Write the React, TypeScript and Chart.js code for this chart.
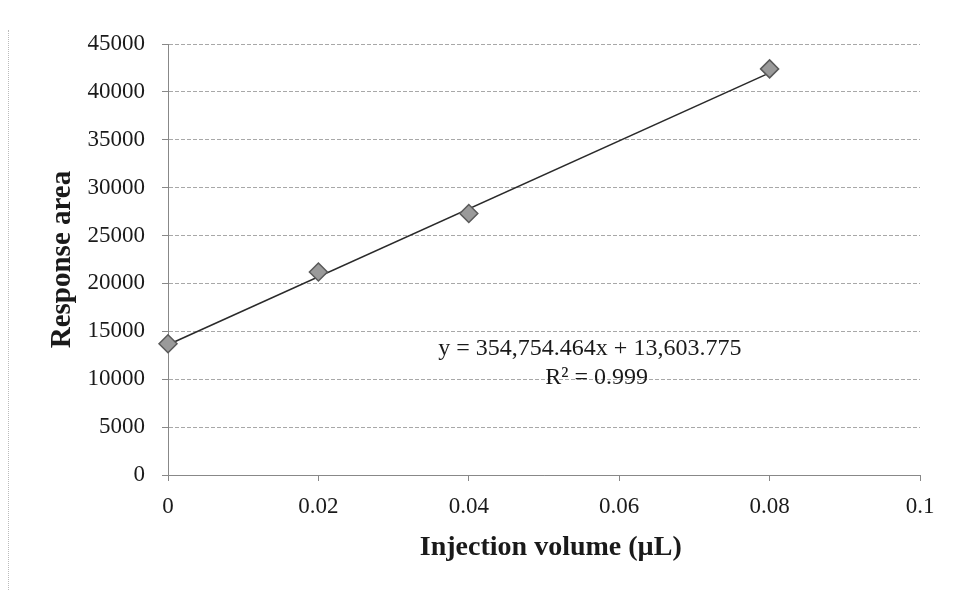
import React, { useEffect, useRef } from "react";
import { Chart, registerables } from "chart.js";

Chart.register(...registerables);

const injectionVolume = [0, 0.02, 0.04, 0.08];
const responseArea = [13700, 21200, 27300, 42400];
const trendX = [0, 0.08];
const trendY = [13603.775, 41984.132];
const equationLines = ["y = 354,754.464x + 13,603.775", "R² = 0.999"];
const xTitle = "Injection volume (µL)";
const yTitle = "Response area";

const textPlugin = {
  id: "eqText",
  afterDatasetsDraw(chart: any) {
    const { ctx, chartArea } = chart;
    const w = chartArea.right - chartArea.left;
    const h = chartArea.bottom - chartArea.top;
    ctx.save();
    ctx.fillStyle = "#1a1a1a";
    ctx.font = "24px 'Liberation Serif', serif";
    ctx.textAlign = "center";
    ctx.textBaseline = "middle";
    ctx.fillText(equationLines[0], chartArea.left + w * 0.561, chartArea.top + h * 0.708);
    ctx.fillText(equationLines[1], chartArea.left + w * 0.57, chartArea.top + h * 0.775);
    ctx.font = "bold 28px 'Liberation Serif', serif";
    ctx.fillText(xTitle, chartArea.left + w * 0.509, chartArea.bottom + 73);
    ctx.restore();
  },
};

export default function App() {
  const ref = useRef<HTMLCanvasElement>(null);
  useEffect(() => {
    document.body.style.margin = "0";
    const chart = new Chart(ref.current!, {
      type: "scatter",
      data: {
        datasets: [
          {
            type: "line",
            data: trendX.map((x, i) => ({ x, y: trendY[i] })),
            borderColor: "#2a2a2a",
            borderWidth: 1.6,
            pointRadius: 0,
            fill: false,
            clip: false,
            order: 2,
          },
          {
            data: injectionVolume.map((x, i) => ({ x, y: responseArea[i] })),
            pointStyle: "rectRot",
            pointRadius: 9,
            backgroundColor: "#9a9a9a",
            borderColor: "#5a5a5a",
            borderWidth: 1.5,
            clip: false,
            order: 1,
          },
        ],
      },
      options: {
        responsive: false,
        animation: false,
        layout: { padding: { top: 44, right: 35, left: 0, bottom: 0 } },
        plugins: { legend: { display: false }, tooltip: { enabled: false } },
        scales: {
          x: {
            type: "linear",
            min: 0,
            max: 0.1,
            ticks: {
              stepSize: 0.02,
              color: "#1a1a1a",
              padding: 12,
              font: { family: "'Liberation Serif', serif", size: 23 },
              callback: (v: any) => String(Math.round(v * 100) / 100),
            },
            grid: { drawOnChartArea: false, drawTicks: true, tickLength: 6, color: "#888" },
            border: { display: true, color: "#888", width: 1 },
            title: { display: false },
            afterFit: (s: any) => { s.height = 115; },
          },
          y: {
            min: 0,
            max: 45000,
            ticks: {
              stepSize: 5000,
              color: "#1a1a1a",
              padding: 17,
              font: { family: "'Liberation Serif', serif", size: 23 },
              callback: (v: any) => String(v),
            },
            grid: { color: "#a8a8a8", tickLength: 6, tickColor: "#888", tickBorderDash: [] },
            border: { display: true, color: "#888", width: 1, dash: [4, 2] },
            title: {
              display: true,
              text: yTitle,
              color: "#1a1a1a",
              font: { family: "'Liberation Serif', serif", size: 29, weight: "bold" },
              padding: { top: 45, bottom: 0 },
            },
            afterFit: (s: any) => { s.width = 168; },
          },
        },
      },
      plugins: [textPlugin],
    } as any);
    return () => chart.destroy();
  }, []);
  return (
    <div style={{ position: "relative", width: 955, height: 590, background: "#fff" }}>
      <div style={{ position: "absolute", left: 8, top: 30, height: 560, borderLeft: "1px dotted #bbb" }} />
      <canvas ref={ref} width={955} height={590} style={{ position: "absolute", left: 0, top: 0 }} />
    </div>
  );
}
